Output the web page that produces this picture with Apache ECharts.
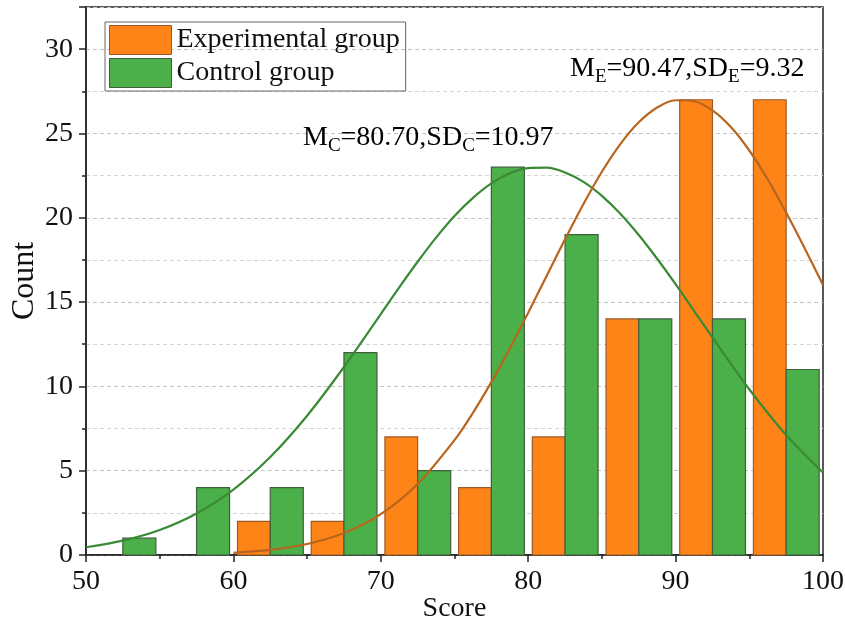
<!DOCTYPE html>
<html>
<head>
<meta charset="utf-8">
<script src="https://cdn.jsdelivr.net/npm/echarts@6/dist/echarts.min.js"></script>
<style>
  html, body { margin: 0; padding: 0; background: #fff; }
  #chart { width: 845px; height: 623px; }
</style>
</head>
<body>
<div id="chart"></div>
<script>
// histogram bins (start of each 5-point bin)
const binStart = [50, 55, 60, 65, 70, 75, 80, 85, 90, 95]
const expCount = [0, 0, 2, 2, 7, 4, 7, 14, 27, 27]
const ctrlCount = [1, 4, 4, 12, 5, 23, 19, 14, 14, 11]

// fitted normal curves
const ctrlCurveX = [50, 52.5, 55, 57.5, 60, 62.5, 65, 67.5, 70, 71.25, 72.5, 73.75, 75, 76.25, 77.5, 78.75, 80, 81.25, 82.5, 83.75, 85, 86.25, 87.5, 88.75, 90, 91.25, 92.5, 95, 97.5, 100]
const ctrlCurveY = [0.46, 0.85, 1.48, 2.46, 3.88, 5.81, 8.26, 11.15, 14.29, 15.87, 17.39, 18.82, 20.1, 21.18, 22.04, 22.64, 22.95, 22.97, 22.69, 22.13, 21.3, 20.24, 18.98, 17.57, 16.06, 14.48, 12.9, 9.83, 7.12, 4.89]
const expCurveX = [60, 62.5, 65, 67.5, 70, 72.5, 75, 76.25, 77.5, 78.75, 80, 81.25, 82.5, 83.75, 85, 86.25, 87.5, 88.75, 90, 91.25, 92.5, 93.75, 95, 96.25, 97.5, 98.75, 100]
const expCurveY = [0.13, 0.3, 0.65, 1.3, 2.42, 4.21, 6.81, 8.43, 10.25, 12.24, 14.37, 16.55, 18.73, 20.82, 22.73, 24.37, 25.66, 26.54, 26.97, 26.91, 26.37, 25.38, 23.99, 22.28, 20.31, 18.2, 16.01]

const xTicks = [50, 60, 70, 80, 90, 100]
const yTicks = [0, 5, 10, 15, 20, 25, 30]

const FONT = '"Liberation Serif", "Times New Roman", serif'
const ORANGE = '#ff8418'
const ORANGE_EDGE = '#9a5a28'
const GREEN = '#4cb04a'
const GREEN_EDGE = '#3e5e3e'

const chart = echarts.init(document.getElementById('chart'))

// bars drawn inside each bin: orange on the left half, green on the right half
function barRenderer (counts, off0, off1, color, edge) {
  return function (params, api) {
    const i = api.value(0)
    const c = counts[i]
    if (!c) return null
    const p0 = api.coord([binStart[i] + off0, c])
    const p1 = api.coord([binStart[i] + off1, 0])
    return {
      type: 'rect',
      shape: { x: p0[0], y: p0[1], width: p1[0] - p0[0], height: p1[1] - p0[1] },
      style: { fill: color, stroke: edge, lineWidth: 1.2 }
    }
  }
}

const subText = (main, sub, rest1, sub2, rest2) =>
  `{n|${main}}{s|${sub}}{n|${rest1}}{s|${sub2}}{n|${rest2}}`

const annoRich = {
  n: { fontFamily: FONT, fontSize: 28, color: '#111' },
  s: { fontFamily: FONT, fontSize: 19, color: '#111', padding: [16, 0, 0, 0] }
}

const option = {
  backgroundColor: '#fff',
  animation: false,
  grid: {
    left: 86, right: 22, top: 7, bottom: 68,
    outerBoundsMode: 'none',
    containLabel: false,
    show: true, borderColor: '#222', borderWidth: 1.5
  },
  legend: {
    left: 105, top: 22,
    orient: 'vertical',
    itemWidth: 62, itemHeight: 29, itemGap: 3,
    padding: [3, 6, 3, 4],
    borderColor: '#666', borderWidth: 1,
    textStyle: { fontFamily: FONT, fontSize: 28, color: '#111' },
    data: [
      { name: 'Experimental group', icon: 'rect', itemStyle: { color: ORANGE, borderColor: ORANGE_EDGE, borderWidth: 1 } },
      { name: 'Control group', icon: 'rect', itemStyle: { color: GREEN, borderColor: GREEN_EDGE, borderWidth: 1 } }
    ]
  },
  xAxis: {
    type: 'value',
    min: xTicks[0], max: xTicks[xTicks.length - 1], interval: 10,
    name: 'Score', nameLocation: 'middle', nameGap: 40, nameMoveOverlap: false,
    nameTextStyle: { fontFamily: FONT, fontSize: 28, color: '#111' },
    axisLine: { lineStyle: { color: '#222', width: 1.5 } },
    axisTick: { length: 7, lineStyle: { color: '#222', width: 1.5 } },
    minorTick: { show: true, splitNumber: 2, length: 4, lineStyle: { color: '#222', width: 1.5 } },
    axisLabel: { fontFamily: FONT, fontSize: 28, color: '#111', margin: 13 },
    splitLine: { show: false }
  },
  yAxis: {
    type: 'value',
    min: 0, max: 32.5, interval: 5,
    name: 'Count', nameLocation: 'middle', nameGap: 45, nameRotate: 90, nameMoveOverlap: false,
    nameTextStyle: { fontFamily: FONT, fontSize: 32, color: '#111' },
    axisLine: { show: true, lineStyle: { color: '#222', width: 1.5 } },
    axisTick: { show: true, length: 7, lineStyle: { color: '#222', width: 1.5 } },
    minorTick: { show: true, splitNumber: 2, length: 4, lineStyle: { color: '#222', width: 1.5 } },
    axisLabel: {
      fontFamily: FONT, fontSize: 28, color: '#111', margin: 13, showMaxLabel: false,
      formatter: v => (yTicks.indexOf(v) >= 0 ? v : '')
    },
    splitLine: { show: true, lineStyle: { color: '#c4c4c4', type: [4, 3], width: 1 } },
    minorSplitLine: { show: true, lineStyle: { color: '#d4d4d4', type: [4, 3], width: 1 } }
  },
  graphic: [
    {
      type: 'text', left: 303, top: 124, z: 100,
      style: { text: subText('M', 'C', '=80.70,SD', 'C', '=10.97'), rich: annoRich }
    },
    {
      type: 'text', left: 570, top: 55, z: 100,
      style: { text: subText('M', 'E', '=90.47,SD', 'E', '=9.32'), rich: annoRich }
    }
  ],
  series: [
    {
      name: 'Experimental group',
      type: 'custom',
      renderItem: barRenderer(expCount, 0.28, 2.5, ORANGE, ORANGE_EDGE),
      data: binStart.map((b, i) => [i]),
      itemStyle: { color: ORANGE },
      z: 2
    },
    {
      name: 'Control group',
      type: 'custom',
      renderItem: barRenderer(ctrlCount, 2.5, 4.74, GREEN, GREEN_EDGE),
      data: binStart.map((b, i) => [i]),
      itemStyle: { color: GREEN },
      z: 2
    },
    {
      name: 'Control fit',
      type: 'line',
      smooth: 0.3,
      showSymbol: false,
      data: ctrlCurveX.map((x, i) => [x, ctrlCurveY[i]]),
      lineStyle: { color: '#3a8a35', width: 2.2 },
      z: 5
    },
    {
      name: 'Experimental fit',
      type: 'line',
      smooth: 0.3,
      showSymbol: false,
      data: expCurveX.map((x, i) => [x, expCurveY[i]]),
      lineStyle: { color: '#b8651e', width: 2.2 },
      z: 5
    }
  ]
}

chart.setOption(option)
</script>
</body>
</html>
